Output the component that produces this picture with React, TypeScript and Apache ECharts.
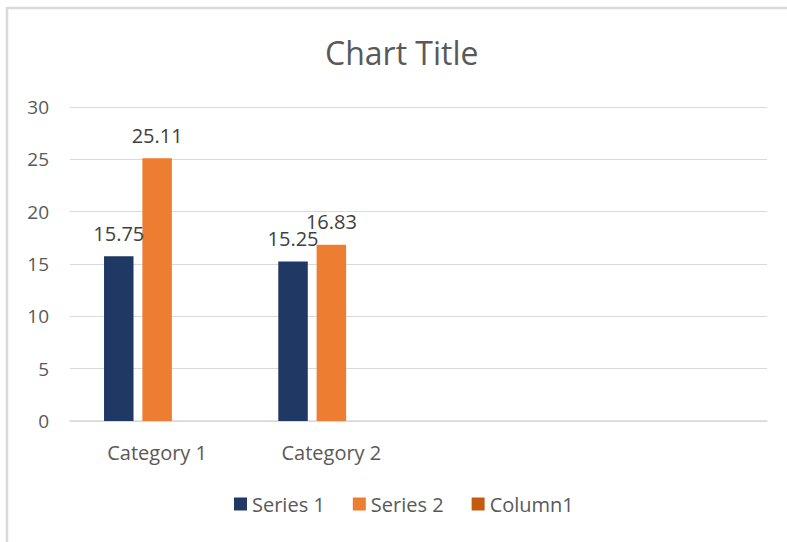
import React, { useEffect, useRef } from "react";
import * as echarts from "echarts";

const categories = ["Category 1", "Category 2", "", " "];
const series1 = [15.75, 15.25, null, null];
const series2 = [25.11, 16.83, null, null];
const column1: (number | null)[] = [null, null, null, null];
const yTicks = { min: 0, max: 30, interval: 5 };

const FONT = "'Open Sans', 'Noto Sans', sans-serif";
const GREY = "#595959";

export default function App() {
  const ref = useRef<HTMLDivElement>(null);
  useEffect(() => {
    if (!ref.current) return;
    const chart = echarts.init(ref.current, undefined, { renderer: "svg" });
    const label = {
      show: true,
      position: "top" as const,
      distance: 13,
      color: "#404040",
      fontSize: 20,
      fontFamily: FONT,
    };
    chart.setOption({
      animation: false,
      backgroundColor: "#ffffff",
      textStyle: { fontFamily: FONT },
      title: {
        text: "Chart Title",
        left: 320,
        top: 31,
        textStyle: { color: GREY, fontSize: 32, fontWeight: "normal", fontFamily: FONT },
      },
      graphic: [
        {
          type: "rect",
          shape: { x: 7, y: 8, width: 900, height: 700 },
          style: { fill: "none", stroke: "#d9d9d9", lineWidth: 2.5 },
          silent: true,
        },
      ],
      legend: {
        bottom: 23,
        left: 229,
        itemWidth: 13,
        itemHeight: 13,
        itemGap: 28,
        icon: "rect",
        textStyle: { color: GREY, fontSize: 20, fontFamily: FONT },
        data: ["Series 1", "Series 2", "Column1"],
      },
      grid: { left: 70, right: 20, top: 107, bottom: 121, containLabel: false },
      xAxis: {
        type: "category",
        data: categories,
        axisLine: { show: true, lineStyle: { color: "#d9d9d9", width: 1.5 } },
        axisTick: { show: false },
        axisLabel: { color: GREY, fontSize: 20, margin: 21, fontFamily: FONT },
      },
      yAxis: {
        type: "value",
        min: yTicks.min,
        max: yTicks.max,
        interval: yTicks.interval,
        axisLine: { show: false },
        axisTick: { show: false },
        splitLine: { lineStyle: { color: "#d9d9d9", width: 1 } },
        axisLabel: { color: GREY, fontSize: 19, margin: 21, fontFamily: FONT },
      },
      series: [
        {
          name: "Series 1",
          type: "bar",
          data: series1,
          barWidth: 29.5,
          barGap: "30%",
          itemStyle: { color: "#203864" },
          label,
        },
        {
          name: "Series 2",
          type: "bar",
          data: series2,
          barWidth: 29.5,
          barGap: "30%",
          itemStyle: { color: "#ED7D31" },
          label,
        },
        {
          name: "Column1",
          type: "bar",
          data: column1,
          barWidth: 29.5,
          barGap: "30%",
          itemStyle: { color: "#C55A11" },
          label,
        },
      ],
    });
    return () => chart.dispose();
  }, []);
  return (
    <div
      ref={ref}
      style={{ position: "fixed", left: 0, top: 0, width: 787, height: 542 }}
    />
  );
}
